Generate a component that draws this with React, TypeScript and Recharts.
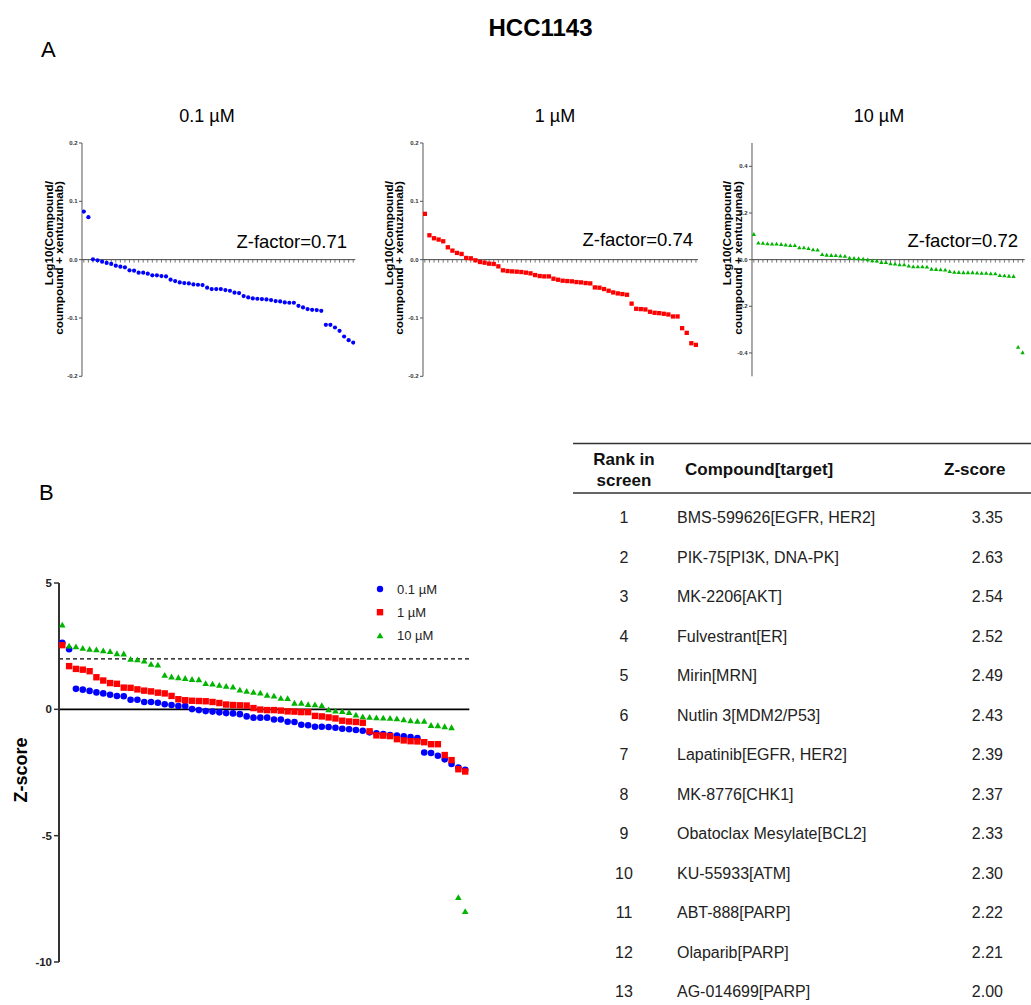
import React from "react";
import { Legend, ReferenceLine, Scatter, ScatterChart, XAxis, YAxis } from "recharts";

const FONT = "'Liberation Sans', Arial, Helvetica, sans-serif";
const BLUE = "#0000ff";
const RED = "#ff0000";
const GREEN = "#00b400";

// Panel A: log10(compound / compound + xentuzumab), ranked high to low
const logRatio01 = [
  0.0825, 0.0728, 0.0006, -0.0011, -0.0034, -0.0057, -0.0074, -0.0103, -0.012, -0.0132,
  -0.0183, -0.0189, -0.0223, -0.0223, -0.0241, -0.0269, -0.0269, -0.0281, -0.0287, -0.0344,
  -0.0367, -0.039, -0.0401, -0.0407, -0.0424, -0.043, -0.0436, -0.0481, -0.0504, -0.0504,
  -0.0504, -0.0521, -0.0533, -0.0567, -0.0573, -0.0625, -0.0648, -0.0665, -0.067, -0.0676,
  -0.0682, -0.0693, -0.0711, -0.0716, -0.0733, -0.0739, -0.0739, -0.0791, -0.082, -0.0848,
  -0.086, -0.0865, -0.0877, -0.1117, -0.1117, -0.1163, -0.1221, -0.1318, -0.1381, -0.1421,
];
const logRatio1 = [
  0.0785, 0.0418, 0.0367, 0.0344, 0.0315, 0.0212, 0.0155, 0.0115, 0.0097, 0.0029,
  0.0023, -0.0011, -0.004, -0.0052, -0.0069, -0.0074, -0.0115, -0.0183, -0.0195, -0.0201,
  -0.0206, -0.0212, -0.0223, -0.0235, -0.0264, -0.0281, -0.0287, -0.0287, -0.0327, -0.0344,
  -0.0361, -0.0367, -0.0372, -0.0384, -0.039, -0.0401, -0.0407, -0.0476, -0.0481, -0.0504,
  -0.0533, -0.0562, -0.0579, -0.059, -0.0602, -0.0754, -0.0842, -0.0848, -0.0854, -0.0894,
  -0.0911, -0.0917, -0.0928, -0.094, -0.0974, -0.0974, -0.1175, -0.1255, -0.1433, -0.1461,
];
const logRatio10 = [
  0.11, 0.073, 0.072, 0.07, 0.069, 0.069, 0.067, 0.064, 0.062, 0.062,
  0.053, 0.053, 0.049, 0.044, 0.043, 0.024, 0.021, 0.02, 0.019, 0.017,
  0.016, 0.009, 0.007, 0.006, 0.004, 0.001, -0.003, -0.004, -0.01, -0.011,
  -0.016, -0.017, -0.02, -0.02, -0.026, -0.029, -0.029, -0.029, -0.03, -0.039,
  -0.04, -0.042, -0.043, -0.049, -0.052, -0.053, -0.054, -0.054, -0.054, -0.056,
  -0.057, -0.057, -0.059, -0.059, -0.066, -0.067, -0.069, -0.07, -0.374, -0.397,
];

// Panel B: Z-scores per concentration
const zScore01 = [
  2.63, 2.38, 0.81, 0.78, 0.73, 0.67, 0.63, 0.58, 0.53, 0.52,
  0.38, 0.38, 0.29, 0.29, 0.26, 0.2, 0.17, 0.13, 0.13, 0.01,
  -0.03, -0.07, -0.09, -0.12, -0.15, -0.16, -0.19, -0.28, -0.33, -0.33,
  -0.33, -0.4, -0.4, -0.49, -0.5, -0.61, -0.63, -0.69, -0.69, -0.7,
  -0.73, -0.77, -0.79, -0.82, -0.85, -0.91, -0.95, -0.98, -1.02, -1.04,
  -1.07, -1.1, -1.14, -1.71, -1.73, -1.84, -1.98, -2.16, -2.3, -2.39,
];
const zScore1 = [
  2.54, 1.71, 1.6, 1.57, 1.51, 1.27, 1.14, 1.04, 1.01, 0.86,
  0.85, 0.79, 0.74, 0.71, 0.66, 0.63, 0.53, 0.4, 0.36, 0.34,
  0.33, 0.32, 0.29, 0.25, 0.19, 0.17, 0.16, 0.15, 0.05, -0.01,
  -0.03, -0.03, -0.05, -0.08, -0.09, -0.11, -0.11, -0.26, -0.28, -0.32,
  -0.36, -0.45, -0.48, -0.5, -0.53, -0.87, -1.03, -1.04, -1.06, -1.18,
  -1.23, -1.26, -1.27, -1.3, -1.38, -1.38, -1.81, -2.01, -2.37, -2.46,
];
const zScore10 = [
  3.35, 2.52, 2.49, 2.43, 2.39, 2.37, 2.33, 2.3, 2.22, 2.21,
  2.0, 1.98, 1.93, 1.8, 1.77, 1.36, 1.3, 1.27, 1.24, 1.2,
  1.19, 1.04, 1.02, 0.97, 0.93, 0.9, 0.78, 0.73, 0.69, 0.66,
  0.57, 0.54, 0.45, 0.44, 0.26, 0.26, 0.21, 0.2, 0.17, 0.0,
  -0.05, -0.07, -0.11, -0.21, -0.28, -0.3, -0.32, -0.33, -0.34, -0.36,
  -0.4, -0.44, -0.46, -0.46, -0.62, -0.63, -0.67, -0.71, -7.43, -7.99,
];

// hit table
const tableRank = [1, 2, 3, 4, 5, 6, 7, 8, 9, 10, 11, 12, 13];
const tableCompound = [
  "BMS-599626[EGFR, HER2]",
  "PIK-75[PI3K, DNA-PK]",
  "MK-2206[AKT]",
  "Fulvestrant[ER]",
  "Mirin[MRN]",
  "Nutlin 3[MDM2/P53]",
  "Lapatinib[EGFR, HER2]",
  "MK-8776[CHK1]",
  "Obatoclax Mesylate[BCL2]",
  "KU-55933[ATM]",
  "ABT-888[PARP]",
  "Olaparib[PARP]",
  "AG-014699[PARP]",
];
const tableZ = [3.35, 2.63, 2.54, 2.52, 2.49, 2.43, 2.39, 2.37, 2.33, 2.3, 2.22, 2.21, 2.0];

const ranks = logRatio01.map((_, i) => i + 1);
const rankTicks = ranks.map((x) => ({ x, y: 0 }));
const toPoints = (values: number[]) => values.map((y, i) => ({ x: ranks[i], y }));

type MarkProps = { cx?: number; cy?: number };

const circleMark = (color: string, r: number) => ({ cx = 0, cy = 0 }: MarkProps) => (
  <circle cx={cx} cy={cy} r={r} fill={color} />
);
const squareMark = (color: string, s: number) => ({ cx = 0, cy = 0 }: MarkProps) => (
  <rect x={cx - s / 2} y={cy - s / 2} width={s} height={s} fill={color} />
);
const triangleMark = (color: string, w: number, h: number) => ({ cx = 0, cy = 0 }: MarkProps) => (
  <polygon
    points={`${cx - w / 2},${cy + h / 2} ${cx + w / 2},${cy + h / 2} ${cx},${cy - h / 2}`}
    fill={color}
  />
);
const tickMark = ({ cx = 0, cy = 0 }: MarkProps) => (
  <line x1={cx} x2={cx} y1={cy} y2={cy + 3} stroke="#555" strokeWidth={0.8} />
);

const RANK_DOMAIN: [number, number] = [0.6, 60.45];

interface RankPlotProps {
  left: number;
  top: number;
  width: number;
  height: number;
  values: number[];
  domain: [number, number];
  ticks: number[];
  mark: (p: MarkProps) => React.ReactElement;
}

function RankPlot({ left, top, width, height, values, domain, ticks, mark }: RankPlotProps) {
  const axisW = 40;
  const pad = 8;
  return (
    <div style={{ position: "absolute", left: left - axisW, top: top - pad }}>
      <ScatterChart
        width={axisW + width + pad}
        height={height + 2 * pad}
        margin={{ top: pad, right: pad, bottom: pad, left: 0 }}
      >
        <XAxis type="number" dataKey="x" domain={RANK_DOMAIN} hide allowDataOverflow />
        <YAxis
          type="number"
          dataKey="y"
          domain={domain}
          ticks={ticks}
          interval={0}
          width={axisW}
          allowDataOverflow
          tickFormatter={(v: number) => v.toFixed(1)}
          tick={{ fontSize: 6, fontWeight: 700, fill: "#333", fontFamily: FONT }}
          tickSize={3}
          tickMargin={1.5}
          axisLine={{ stroke: "#555", strokeWidth: 1 }}
          tickLine={{ stroke: "#555" }}
        />
        <ReferenceLine y={0} stroke="#444" strokeWidth={1} />
        <Scatter data={rankTicks} shape={tickMark} isAnimationActive={false} />
        <Scatter data={toPoints(values)} shape={mark} isAnimationActive={false} />
      </ScatterChart>
    </div>
  );
}

const legendContent = (props: any) => {
  const items = props.payload ?? [];
  return (
    <svg width={100} height={60} style={{ overflow: "visible" }}>
      {items.map((item: any, i: number) => {
        const cy = 6 + i * 23.2;
        const color = item.color;
        let symbol: React.ReactElement;
        if (item.type === "square") {
          symbol = <rect x={2.8} y={cy - 3.2} width={6.4} height={6.4} fill={color} />;
        } else if (item.type === "triangle") {
          symbol = <polygon points={`2.6,${cy + 2.8} 9.4,${cy + 2.8} 6,${cy - 3}`} fill={color} />;
        } else {
          symbol = <circle cx={6} cy={cy} r={3.2} fill={color} />;
        }
        return (
          <g key={item.value}>
            {symbol}
            <text x={23} y={cy + 4.5} fontSize={13} fontFamily={FONT} fill="#222">
              {item.value}
            </text>
          </g>
        );
      })}
    </svg>
  );
};

function ZScorePlot() {
  const left = 59;
  const top = 582.7;
  const width = 410.3;
  const height = 379;
  const axisW = 40;
  const pad = 10;
  return (
    <div style={{ position: "absolute", left: left - axisW, top: top - pad }}>
      <ScatterChart
        width={axisW + width + pad}
        height={height + 2 * pad}
        margin={{ top: pad, right: pad, bottom: pad, left: 0 }}
      >
        <XAxis type="number" dataKey="x" domain={[0.52, 60.6]} hide allowDataOverflow />
        <YAxis
          type="number"
          dataKey="y"
          domain={[-10, 5]}
          ticks={[-10, -5, 0, 5]}
          interval={0}
          width={axisW}
          allowDataOverflow
          tick={{ fontSize: 11.5, fontWeight: 700, fill: "#222", fontFamily: FONT }}
          tickSize={5}
          tickMargin={2}
          axisLine={{ stroke: "#333", strokeWidth: 2 }}
          tickLine={{ stroke: "#333", strokeWidth: 1.5 }}
        />
        <ReferenceLine y={0} stroke="#000" strokeWidth={1.6} />
        <ReferenceLine y={2} stroke="#000" strokeWidth={1.2} strokeDasharray="4 3" />
        <Legend
          layout="vertical"
          align="center"
          verticalAlign="middle"
          content={legendContent}
          wrapperStyle={{ left: 355, top: 10.6, width: 100, height: 60 }}
        />
        <Scatter
          name="0.1 µM"
          data={toPoints(zScore01)}
          fill={BLUE}
          legendType="circle"
          shape={circleMark(BLUE, 3.3)}
          isAnimationActive={false}
        />
        <Scatter
          name="1 µM"
          data={toPoints(zScore1)}
          fill={RED}
          legendType="square"
          shape={squareMark(RED, 6.4)}
          isAnimationActive={false}
        />
        <Scatter
          name="10 µM"
          data={toPoints(zScore10)}
          fill={GREEN}
          legendType="triangle"
          shape={triangleMark(GREEN, 6.6, 5.8)}
          isAnimationActive={false}
        />
      </ScatterChart>
    </div>
  );
}

const logTitle = ["Log10(Compound/", "coumpound + xentuzumab)"];

function LogAxisTitle({ x1, x2 }: { x1: number; x2: number }) {
  const yEnd = 181;
  return (
    <>
      {[x1, x2].map((x, i) => (
        <text
          key={i}
          x={x}
          y={yEnd}
          transform={`rotate(-90 ${x} ${yEnd})`}
          textAnchor="end"
          fontSize={11.8}
          fontWeight={700}
          fill="#000"
        >
          {logTitle[i]}
        </text>
      ))}
    </>
  );
}

function Annotations() {
  const rowY = (i: number) => 523 + i * 39.5;
  return (
    <svg
      width={1031}
      height={1005}
      style={{ position: "absolute", left: 0, top: 0, pointerEvents: "none" }}
      fontFamily={FONT}
    >
      <text x={540.5} y={35.5} textAnchor="middle" fontSize={24} fontWeight={700} fill="#000">
        HCC1143
      </text>
      <text x={41} y={57} fontSize={22} fill="#000">A</text>
      <text x={39} y={500} fontSize={22} fill="#000">B</text>

      <text x={207} y={121.5} textAnchor="middle" fontSize={18} fill="#000">0.1 µM</text>
      <text x={555} y={121.5} textAnchor="middle" fontSize={18} fill="#000">1 µM</text>
      <text x={879} y={121.5} textAnchor="middle" fontSize={18} fill="#000">10 µM</text>

      <text x={347} y={248} textAnchor="end" fontSize={18.5} fill="#000">Z-factor=0.71</text>
      <text x={693} y={246} textAnchor="end" fontSize={18.5} fill="#000">Z-factor=0.74</text>
      <text x={1018} y={247} textAnchor="end" fontSize={18.5} fill="#000">Z-factor=0.72</text>

      <LogAxisTitle x1={52.5} x2={62.5} />
      <LogAxisTitle x1={392.5} x2={402.5} />
      <LogAxisTitle x1={731} x2={742} />

      <text
        x={27}
        y={770}
        transform="rotate(-90 27 770)"
        textAnchor="middle"
        fontSize={18}
        fontWeight={700}
        fill="#000"
      >
        Z-score
      </text>

      <line x1={573} x2={1031} y1={443.5} y2={443.5} stroke="#333" strokeWidth={1.5} />
      <line x1={573} x2={1031} y1={493} y2={493} stroke="#333" strokeWidth={1.5} />
      <text x={624} y={465} textAnchor="middle" fontSize={17} fontWeight={700} fill="#111">Rank in</text>
      <text x={624} y={486} textAnchor="middle" fontSize={17} fontWeight={700} fill="#111">screen</text>
      <text x={685} y={475} fontSize={17} fontWeight={700} fill="#111">Compound[target]</text>
      <text x={944} y={475} fontSize={17} fontWeight={700} fill="#111">Z-score</text>

      {tableRank.map((rank, i) => (
        <g key={rank}>
          <text x={624} y={rowY(i)} textAnchor="middle" fontSize={16} fill="#222">{rank}</text>
          <text x={677} y={rowY(i)} fontSize={16} fill="#222">{tableCompound[i]}</text>
          <text x={1003} y={rowY(i)} textAnchor="end" fontSize={16} fill="#222">
            {tableZ[i].toFixed(2)}
          </text>
        </g>
      ))}
    </svg>
  );
}

export default function App() {
  return (
    <div
      style={{
        position: "absolute",
        left: 0,
        top: 0,
        width: 1031,
        height: 1005,
        background: "#fff",
        fontFamily: FONT,
      }}
    >
      <RankPlot
        left={81.7}
        top={142.7}
        width={273.3}
        height={233.3}
        values={logRatio01}
        domain={[-0.2, 0.2]}
        ticks={[-0.2, -0.1, 0, 0.1, 0.2]}
        mark={circleMark(BLUE, 2.1)}
      />
      <RankPlot
        left={423.3}
        top={142.7}
        width={275}
        height={233.3}
        values={logRatio1}
        domain={[-0.2, 0.2]}
        ticks={[-0.2, -0.1, 0, 0.1, 0.2]}
        mark={squareMark(RED, 4.3)}
      />
      <RankPlot
        left={752.3}
        top={142.7}
        width={272.7}
        height={233.3}
        values={logRatio10}
        domain={[-0.5, 0.5]}
        ticks={[-0.4, -0.2, 0, 0.2, 0.4]}
        mark={triangleMark(GREEN, 4.4, 3.8)}
      />
      <ZScorePlot />
      <Annotations />
    </div>
  );
}
